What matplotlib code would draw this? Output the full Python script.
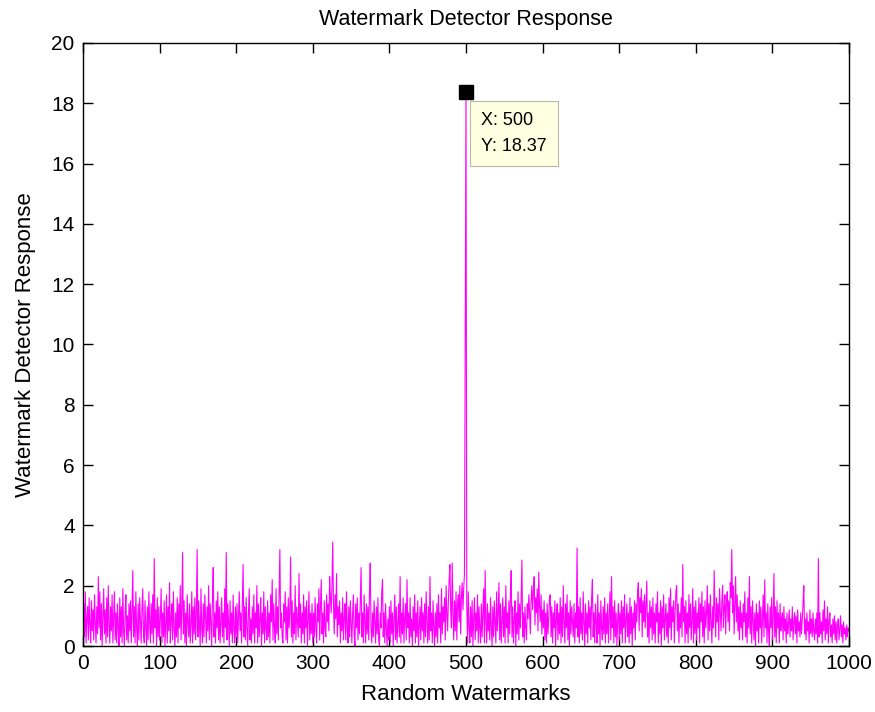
import numpy as np
import matplotlib
matplotlib.use("Agg")
import matplotlib.pyplot as plt

plt.rcParams['font.family'] = ['Liberation Sans', 'DejaVu Sans']

title = "Watermark Detector Response"
xlabel = "Random Watermarks"
ylabel = "Watermark Detector Response"
xticks = [0, 100, 200, 300, 400, 500, 600, 700, 800, 900, 1000]
yticks = [0, 2, 4, 6, 8, 10, 12, 14, 16, 18, 20]
tip_x = 500
tip_y = 18.37

response_rows = [
    [1.4,0.3,1.8,0.1,0.9,1.3,0.2,1.6,0.7,0.1,1.5,0.5,1.2,0.2,1.7,0.8,0.1,1.3,0.4,2.3],
    [0.6,1.8,0.2,1.4,0.0,1.0,1.9,0.4,1.2,0.1,1.6,0.3,2.0,0.7,0.1,1.3,0.5,1.7,0.1,0.9],
    [1.8,0.2,1.1,0.1,1.4,0.6,0.0,1.6,0.3,1.3,0.1,1.9,0.5,0.0,1.1,1.7,0.2,1.0,0.1,1.4],
    [0.5,1.5,0.1,1.2,2.5,0.3,1.3,0.1,1.8,0.6,0.0,1.4,0.2,1.6,0.8,0.1,1.2,1.9,0.4,0.1],
    [1.5,0.6,0.0,1.3,0.2,1.8,0.8,0.1,1.4,0.4,1.7,0.1,2.9,0.6,1.2,0.0,1.6,0.3,1.3,0.2],
    [0.9,1.9,0.1,1.1,0.3,1.5,0.0,0.7,1.7,0.1,1.3,0.5,2.1,0.1,0.9,1.4,0.2,1.8,0.6,0.0],
    [1.1,0.3,1.6,0.1,1.4,0.6,2.0,0.2,1.3,3.1,0.4,1.5,0.1,1.1,0.0,1.7,0.8,0.3,1.4,0.1],
    [0.7,1.8,0.1,1.3,0.4,1.6,0.2,1.1,3.2,0.3,1.5,0.8,0.0,1.9,0.6,0.1,1.4,0.3,1.7,1.0],
    [0.1,1.3,0.5,2.0,0.2,1.4,0.8,0.0,1.6,2.6,0.3,1.1,0.1,1.5,0.6,1.8,0.2,1.3,0.1,0.9],
    [1.6,0.3,1.1,0.1,1.9,0.6,3.1,0.2,1.4,0.8,0.0,1.5,0.4,1.1,0.1,1.7,0.6,0.1,1.3,0.3],
    [1.4,0.1,0.9,1.8,0.5,1.1,0.1,1.5,2.7,0.3,1.3,0.2,1.6,0.6,0.0,1.1,1.9,0.2,0.9,0.1],
    [1.3,0.4,1.7,0.1,1.1,0.6,2.0,0.1,1.4,0.3,0.9,1.6,0.0,1.1,0.4,1.8,0.1,1.3,0.6,0.2],
    [1.5,0.3,1.1,0.1,1.7,0.8,2.2,0.2,1.4,0.6,0.1,1.9,0.4,1.3,0.2,1.6,3.2,0.6,1.1,0.3],
    [0.1,1.4,0.8,1.8,0.2,1.3,0.1,1.6,0.6,1.1,2.95,0.3,1.5,0.1,1.1,0.4,2.0,0.2,1.3,0.8],
    [0.3,2.4,0.6,1.4,0.1,1.1,0.4,1.7,0.1,1.3,0.6,1.5,0.0,0.9,1.8,0.2,1.1,0.4,1.4,0.1],
    [1.1,0.3,1.6,0.6,0.1,1.4,0.8,1.9,0.2,1.3,2.2,0.4,1.1,0.1,1.5,0.6,0.3,1.7,0.8,1.4],
    [0.5,2.3,1.6,1.1,2.0,3.45,1.4,0.4,1.7,0.9,2.4,0.3,1.3,0.7,1.5,0.1,1.1,0.5,1.6,0.2],
    [0.9,1.4,0.2,1.8,0.6,0.1,1.3,0.3,1.5,0.8,0.1,1.1,1.7,0.4,0.0,1.4,0.6,1.6,0.2,1.1],
    [0.4,1.5,2.6,0.3,1.1,0.1,1.7,0.8,0.1,1.4,0.4,1.3,0.2,1.8,2.75,0.6,0.1,1.1,0.3,1.5],
    [0.8,0.1,1.3,0.4,1.6,0.2,0.0,1.1,0.6,1.8,2.2,0.3,1.1,0.1,1.4,0.6,0.0,0.9,0.2,1.3],
    [0.1,1.5,0.4,1.1,0.0,0.9,1.7,0.2,1.3,0.1,0.7,1.4,0.3,2.3,0.1,1.1,0.4,1.6,0.1,0.9],
    [1.4,0.2,2.2,0.6,1.1,0.1,1.6,0.3,0.9,0.0,1.3,0.5,1.7,0.1,1.1,0.3,1.5,0.0,0.7,1.3],
    [0.2,1.6,0.5,1.1,0.1,1.4,0.3,1.8,0.8,0.1,1.3,0.2,2.3,0.5,1.1,0.1,1.5,0.6,0.0,1.1],
    [0.3,1.4,0.1,1.7,0.6,1.1,0.1,1.9,0.4,1.3,0.8,1.6,0.2,2.0,1.1,0.5,1.5,2.2,2.7,1.2],
    [0.6,2.75,1.1,0.2,1.5,0.5,1.8,0.2,1.4,1.7,0.8,2.0,0.4,1.6,2.1,1.2,1.9,2.4,10.0,18.37],
    [1.4,0.1,1.8,0.6,0.1,1.3,0.3,1.5,0.0,0.9,1.6,0.2,1.1,0.5,1.7,0.1,1.3,0.6,0.1,1.4],
    [0.3,1.1,1.9,0.1,2.5,0.8,0.1,1.4,0.5,1.1,0.2,1.6,0.6,0.0,1.3,0.3,1.5,0.8,0.1,1.8],
    [0.5,1.1,2.1,0.2,1.4,0.1,0.9,1.6,0.3,1.3,0.1,2.0,0.6,1.1,0.1,1.5,0.4,1.7,2.5,0.3],
    [1.3,0.1,0.9,1.5,0.0,1.1,0.4,1.8,0.2,1.4,0.6,1.6,2.85,0.3,1.1,0.1,1.3,0.6,0.2,1.4],
    [0.9,1.7,1.1,0.4,1.5,2.0,1.2,1.8,2.3,0.7,1.6,1.1,1.9,0.5,2.45,1.3,0.8,1.7,0.4,1.2],
    [0.6,1.5,0.2,1.1,0.1,1.4,0.4,0.9,1.6,1.7,0.3,1.3,0.1,1.1,0.6,1.5,0.0,0.9,1.4,0.2],
    [1.1,0.4,1.6,0.1,1.3,0.3,2.0,0.8,0.1,1.4,0.6,1.7,0.2,1.1,0.0,1.5,0.4,1.3,0.8,0.3],
    [1.4,0.1,1.1,0.6,3.25,0.3,1.3,0.1,1.6,0.4,1.1,0.2,1.8,0.8,0.0,1.4,0.4,1.1,0.1,1.5],
    [0.6,1.3,0.2,1.6,2.2,0.3,1.1,0.1,1.4,0.8,0.1,1.7,0.4,1.1,0.0,1.5,0.6,0.2,1.3,0.4],
    [1.6,0.1,1.1,0.4,1.4,0.1,0.9,1.8,0.2,2.3,0.6,1.3,0.1,1.5,0.3,1.1,0.0,0.9,1.4,0.2],
    [1.1,0.4,1.5,0.1,1.3,0.6,1.7,0.1,0.9,1.4,0.3,1.1,0.1,1.6,0.4,1.3,0.0,1.1,0.6,1.5],
    [0.2,1.4,0.8,1.8,2.1,0.5,1.6,1.1,1.9,0.3,1.5,0.8,1.7,0.6,1.4,2.15,0.3,1.1,0.1,1.5],
    [0.6,1.3,0.2,1.6,0.4,1.1,0.1,1.4,0.8,1.8,0.1,1.1,0.4,1.5,0.0,1.3,0.6,1.7,0.2,0.9],
    [1.4,0.3,1.1,0.1,1.6,0.6,1.9,0.2,1.3,0.8,1.5,0.1,1.1,1.8,2.0,0.5,1.4,0.1,1.1,0.6],
    [1.6,0.3,2.7,0.8,1.3,0.1,1.5,0.4,1.1,0.1,1.7,0.6,1.4,0.2,0.9,1.9,0.1,1.3,0.4,1.5],
    [0.2,1.1,0.6,1.6,0.1,1.4,0.8,1.8,0.3,1.3,0.1,1.5,0.6,1.1,2.0,0.2,1.4,0.5,1.7,0.8],
    [0.1,1.3,0.6,2.5,1.1,0.3,1.6,0.8,1.4,0.2,1.9,1.1,0.5,1.5,2.0,0.6,1.3,1.7,0.4,1.4],
    [1.8,0.8,1.5,0.5,2.1,1.6,3.2,1.1,2.0,0.4,1.4,2.3,0.8,1.7,0.5,1.3,0.2,1.5,0.6,1.1],
    [0.2,1.4,0.8,1.8,0.3,1.1,0.1,1.6,0.6,2.3,0.4,1.3,0.1,1.5,0.8,0.2,1.1,0.0,1.4,0.5],
    [1.1,0.1,1.5,0.6,1.3,0.1,0.9,1.7,0.3,2.2,0.6,1.1,0.1,1.4,0.5,0.0,1.3,0.6,1.6,0.2],
    [0.9,2.4,0.3,1.3,0.1,1.5,0.6,1.1,0.1,1.4,0.5,0.9,1.1,0.2,1.3,0.5,0.9,0.1,1.1,0.4],
    [0.7,1.2,0.3,0.9,0.5,1.3,0.2,0.8,1.1,0.4,1.0,0.1,1.2,0.5,0.8,0.3,1.1,0.4,0.9,1.4],
    [2.0,0.4,0.9,0.2,1.1,0.5,0.8,0.1,1.2,0.4,0.9,0.3,1.1,0.5,0.2,0.9,0.4,1.1,0.1,2.9],
    [0.3,1.1,0.4,0.8,0.1,1.2,0.5,1.5,0.2,0.9,0.4,1.3,0.1,0.8,1.1,0.3,0.7,0.1,0.9,0.4],
    [1.0,0.2,0.8,0.1,0.7,0.9,0.2,0.6,1.0,0.3,0.7,0.1,0.8,0.4,0.6,0.2,0.7,0.3,0.6,0.5],
]

for k, r in enumerate(response_rows):
    assert len(r) == 20, (k, len(r))

response = np.array([v for r in response_rows for v in r])
watermarks = np.arange(1, len(response) + 1)

fig = plt.figure(figsize=(8.75, 7.12), dpi=100)
ax = fig.add_axes([83/875, 66/712, (849-83)/875, (646-43)/712])

ax.plot(watermarks, response, color='#FF00FF', lw=0.8)
ax.plot([tip_x], [tip_y], marker='s', ms=9.5, color='black', ls='none', zorder=5)
ax.annotate(f"X: {tip_x}\nY: {tip_y}", xy=(tip_x, tip_y), xytext=(11, -14),
            textcoords='offset points', ha='left', va='top', fontsize=13,
            linespacing=1.75,
            bbox=dict(boxstyle='square,pad=0.6', fc='#FFFFE1', ec='#B8B8A8', lw=0.8))

ax.set_xlim(0, 1000)
ax.set_ylim(0, 20)
ax.set_xticks(xticks)
ax.set_yticks(yticks)
ax.tick_params(direction='in', length=7, width=1, top=True, right=True,
               labelsize=15, pad=6)
for s in ax.spines.values():
    s.set_linewidth(1.0)
ax.set_title(title, fontsize=15.5, pad=13)
ax.set_xlabel(xlabel, fontsize=16, labelpad=8)
ax.set_ylabel(ylabel, fontsize=16, labelpad=11)

fig.savefig("out.png", dpi=100, facecolor='white')
